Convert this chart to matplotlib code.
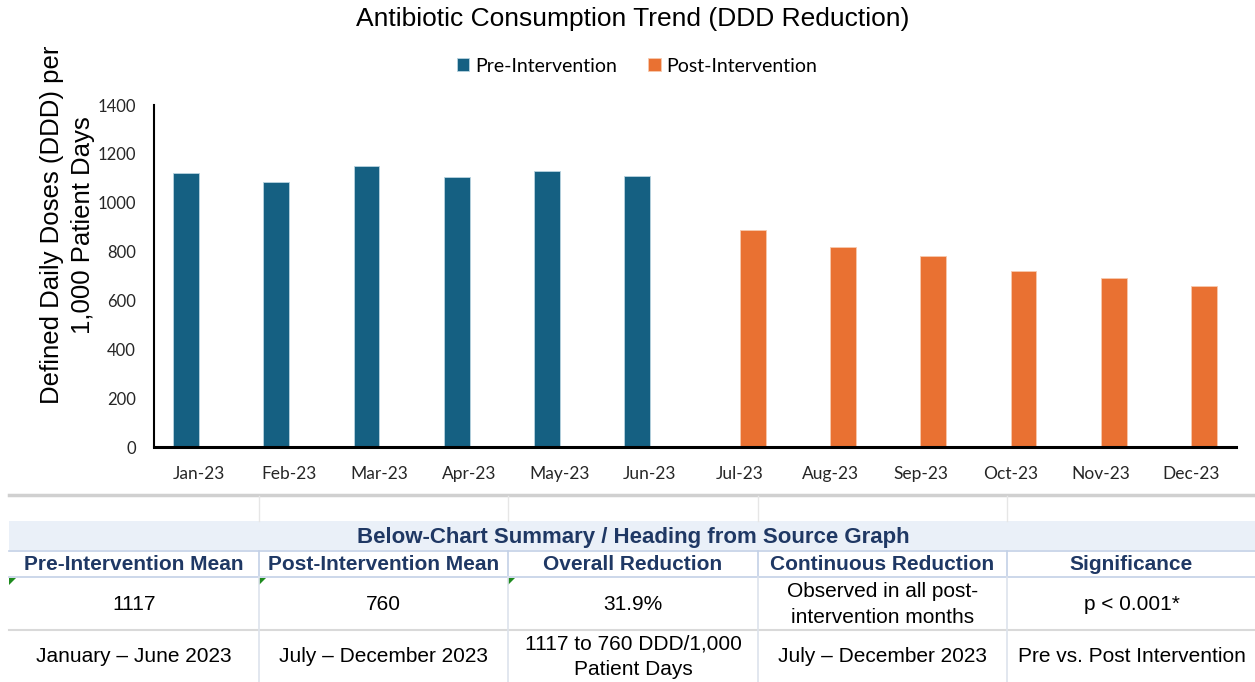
import matplotlib
matplotlib.use("Agg")
import matplotlib.pyplot as plt
from matplotlib.patches import Rectangle, Polygon
from matplotlib.lines import Line2D
import numpy as np

months = ["Jan-23", "Feb-23", "Mar-23", "Apr-23", "May-23", "Jun-23",
          "Jul-23", "Aug-23", "Sep-23", "Oct-23", "Nov-23", "Dec-23"]
pre_values = [1120, 1085, 1150, 1105, 1130, 1110, 0, 0, 0, 0, 0, 0]
post_values = [0, 0, 0, 0, 0, 0, 890, 820, 780, 720, 690, 660]
yticks = [0, 200, 400, 600, 800, 1000, 1200, 1400]
ylabel_lines = ["Defined Daily Doses (DDD) per", "1,000 Patient Days"]

table_heading = "Below-Chart Summary / Heading from Source Graph"
table_columns = ["Pre-Intervention Mean", "Post-Intervention Mean", "Overall Reduction",
                 "Continuous Reduction", "Significance"]
table_row1 = ["1117", "760", "31.9%", "Observed in all post-\nintervention months", "p < 0.001*"]
table_row2 = ["January \u2013 June 2023", "July \u2013 December 2023", "1117 to 760 DDD/1,000\nPatient Days",
              "July \u2013 December 2023", "Pre vs. Post Intervention"]

PRE_C = "#156082"
POST_C = "#E97132"
W, H = 1255, 682

fig = plt.figure(figsize=(W / 100, H / 100), dpi=100)
fig.patch.set_facecolor("white")

ax = fig.add_axes([154 / W, 1 - 447 / H, (1236 - 154) / W, (447 - 105) / H])
x = np.arange(len(months))
bw = 0.286
ax.bar(x - bw / 2, pre_values, width=bw, color=PRE_C, edgecolor="#b8d3e0", linewidth=0.6, label="Pre-Intervention")
ax.bar(x + bw / 2, post_values, width=bw, color=POST_C, edgecolor="#f7c9ae", linewidth=0.6, label="Post-Intervention")
ax.set_xlim(-0.5, len(months) - 0.5)
ax.set_ylim(0, 1400)
ax.set_yticks(yticks)
ax.set_xticks(x)
ax.set_xticklabels(months)
ax.tick_params(axis="both", length=0, labelsize=12.5, colors="#262626")
ax.tick_params(axis="y", labelsize=12)
ax.tick_params(axis="x", pad=14)
ax.tick_params(axis="y", pad=13)
for lab in ax.get_xticklabels() + ax.get_yticklabels():
    lab.set_family("Lato")
for s in ["top", "right"]:
    ax.spines[s].set_visible(False)
ax.spines["left"].set_linewidth(1.5)
ax.spines["bottom"].set_linewidth(2.2)

# overlay axes in pixel coordinates for annotations / table
tx = fig.add_axes([0, 0, 1, 1])
tx.set_xlim(0, W)
tx.set_ylim(H, 0)
tx.axis("off")
tx.patch.set_alpha(0)

for k, line in enumerate(ylabel_lines):
    tx.text(52 + 31 * k, 225, line, rotation=90, ha="center", va="center",
            fontsize=18.5, family="Liberation Sans")

tx.text(633, 19, "Antibiotic Consumption Trend (DDD Reduction)", ha="center", va="center",
        fontsize=19, family="Liberation Sans")
fig.legend(loc="center", bbox_to_anchor=(637 / W, 1 - 66 / H), ncol=2, frameon=False,
           prop={"family": "Lato", "size": 14}, handlelength=0.65, handleheight=0.65,
           handletextpad=0.3, columnspacing=1.6)

col_x = [9, 259, 508, 758, 1007, 1256]
grid_c = "#d9d9d9"
blue_line = "#c3d1e6"
navy = "#1F3864"

tx.add_line(Line2D([9, W], [495, 495], color="#d0d0d0", linewidth=2.5))
for cx in col_x[1:-1]:
    tx.add_line(Line2D([cx, cx], [496, 521], color="#e6e6e6", linewidth=1))
tx.add_patch(Rectangle((9, 521), W - 9, 29, facecolor="#EAF0F8", edgecolor="none"))
tx.text(633, 537, table_heading, ha="center", va="center", fontsize=16, fontweight="bold",
        color=navy, family="Liberation Sans")
tx.add_line(Line2D([9, W], [550.5, 550.5], color=blue_line, linewidth=1.2))
tx.add_line(Line2D([9, W], [577, 577], color=blue_line, linewidth=1.2))
tx.add_line(Line2D([9, W], [630, 630], color=grid_c, linewidth=1.5))
for cx in col_x[1:-1]:
    tx.add_line(Line2D([cx, cx], [550.5, 577], color=blue_line, linewidth=1.2))
    tx.add_line(Line2D([cx, cx], [577, H], color="#dde3ec", linewidth=1.2))


def cell_text(cx, cy, s):
    lines = s.split("\n")
    n = len(lines)
    for j, ln in enumerate(lines):
        yy = cy + (j - (n - 1) / 2) * 25.5
        tx.text(cx, yy, ln, ha="center", va="center", fontsize=15, color="black",
                family="Liberation Sans")


for i in range(5):
    cx = (col_x[i] + col_x[i + 1]) / 2
    tx.text(cx, 564, table_columns[i], ha="center", va="center", fontsize=15, fontweight="bold",
            color=navy, family="Liberation Sans")
    cell_text(cx, 604.5, table_row1[i])
    cell_text(cx, 657, table_row2[i])

for i in range(3):
    x0 = col_x[i]
    tx.add_patch(Polygon([[x0, 578], [x0 + 7, 578], [x0, 585]], closed=True,
                         facecolor="#1e8a1e", edgecolor="none"))

fig.savefig("out.png", dpi=100, facecolor="white")
